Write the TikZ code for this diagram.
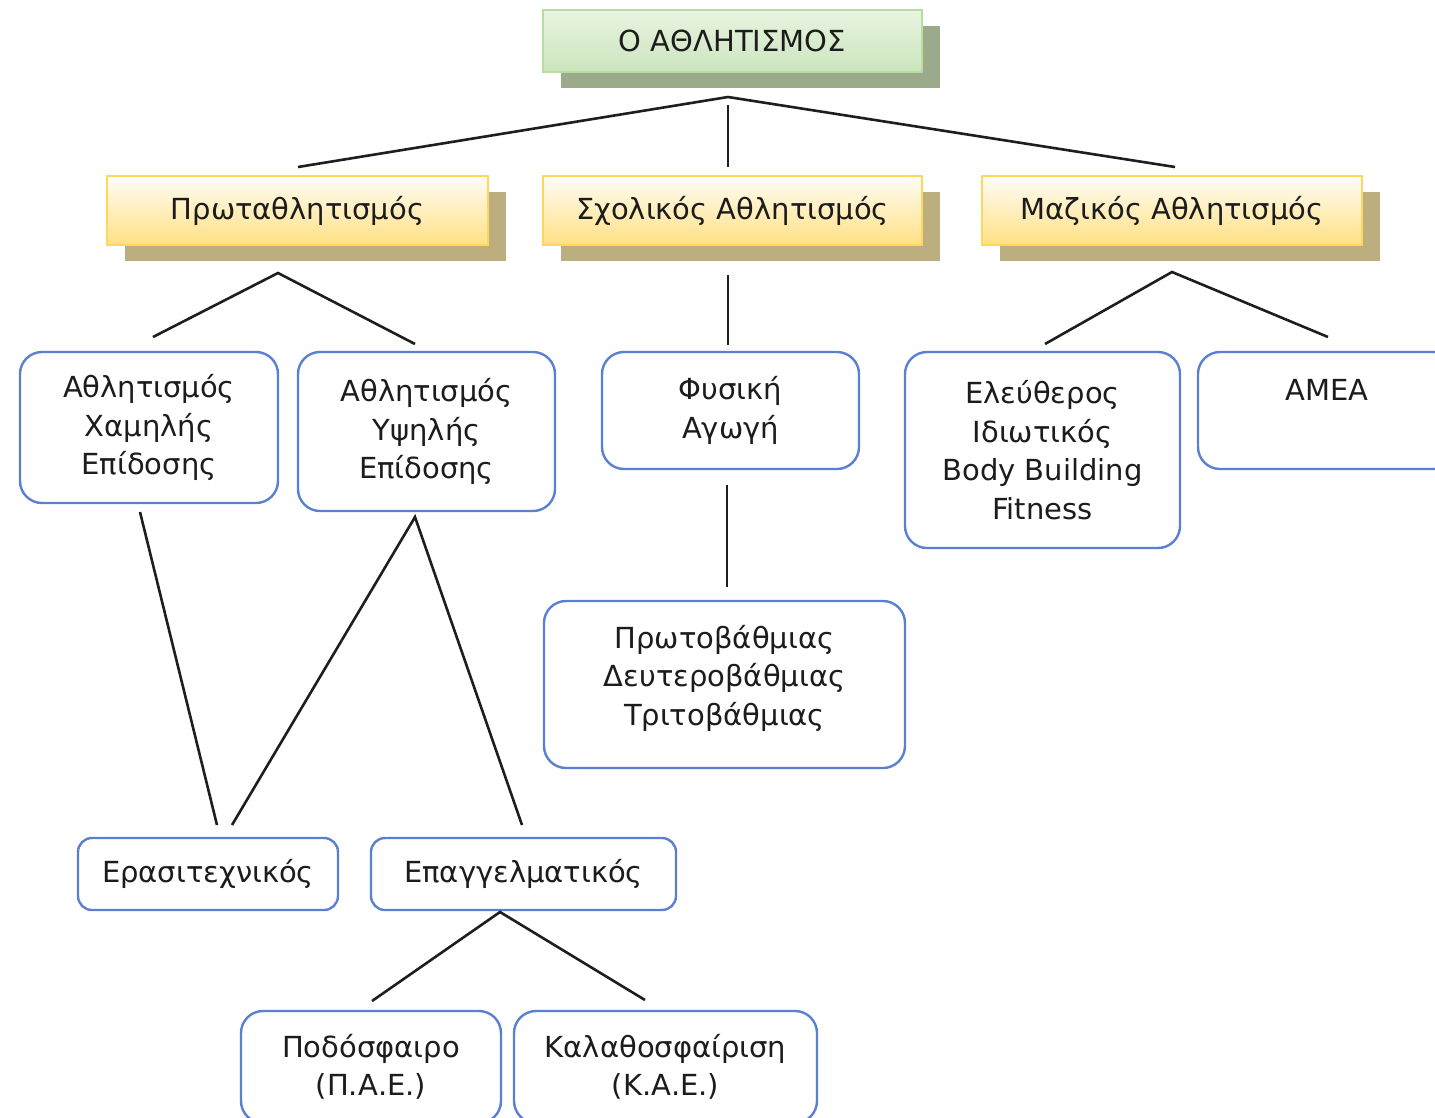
\documentclass[tikz,border=0pt]{standalone}
\usepackage{fontspec}
\setmainfont{DejaVu Sans}
\usetikzlibrary{shadows}
\definecolor{txt}{HTML}{1C1C1C}
\definecolor{boxblue}{HTML}{5B80D2}
\definecolor{gborder}{HTML}{B8DDA0}
\definecolor{gtop}{HTML}{E8F4E0}
\definecolor{gbot}{HTML}{CBE5BD}
\definecolor{gshadow}{HTML}{9AAA8A}
\definecolor{yborder}{HTML}{FFD75E}
\definecolor{ytop}{HTML}{FFFDF6}
\definecolor{ybot}{HTML}{FFE083}
\definecolor{yshadow}{HTML}{BCAE7E}
\definecolor{conncol}{HTML}{1E1E1E}
\begin{document}
\begin{tikzpicture}[x=1pt,y=-1pt,
  basefont/.style={font=\fontsize{29}{38.5}\selectfont, text=txt, align=center},
  topbox/.style={basefont, rectangle, draw=gborder, line width=1.5pt,
    top color=gtop, bottom color=gbot, inner sep=0pt,
    general shadow={fill=gshadow, shadow xshift=18pt, shadow yshift=-16pt}},
  catbox/.style={basefont, rectangle, draw=yborder, line width=1.5pt,
    top color=ytop, bottom color=ybot, inner sep=0pt,
    general shadow={fill=yshadow, shadow xshift=18pt, shadow yshift=-16pt}},
  rbox/.style={basefont, rectangle, draw=boxblue, line width=2.4pt,
    rounded corners=22pt, fill=white, inner sep=0pt},
  conn/.style={draw=conncol, line width=2.6pt},
  plain/.style={basefont, inner sep=0pt}
]
\useasboundingbox (0,0) rectangle (1435,1117);
\clip (0,0) rectangle (1435,1117);

% top
\node[topbox, minimum width=379pt, minimum height=62pt] (top) at (732.5,41) {Ο ΑΘΛΗΤΙΣΜΟΣ};

% categories
\node[catbox, minimum width=381pt, minimum height=69pt] (prota) at (297.5,210.5) {Πρωταθλητισμός};
\node[catbox, minimum width=379pt, minimum height=69pt] (sxol) at (732.5,210.5) {Σχολικός Αθλητισμός};
\node[catbox, minimum width=380pt, minimum height=69pt] (maz) at (1172,210.5) {Μαζικός Αθλητισμός};

% third row
\node[rbox, minimum width=258pt, minimum height=151pt] (low) at (149,427.5) {Αθλητισμός\\Χαμηλής\\Επίδοσης};
\node[rbox, minimum width=257pt, minimum height=159pt] (high) at (426.5,431.5) {Αθλητισμός\\Υψηλής\\Επίδοσης};
\node[rbox, minimum width=257pt, minimum height=117pt] (fys) at (730.5,410.5) {Φυσική\\Αγωγή};
\node[rbox, minimum width=275pt, minimum height=196pt] (free) at (1042.5,450) {Ελεύθερος\\Ιδιωτικός\\Body Building\\Fitness};
\node[rbox, minimum width=258pt, minimum height=117pt] (amea) at (1327,410.5) {};
\node[plain] (ameatext) at (1327,390) {ΑΜΕΑ};

% fourth row
\node[rbox, minimum width=361pt, minimum height=167pt] (bath) at (724.5,684.5) {};
\node[plain] (bathtext) at (724.5,678) {Πρωτοβάθμιας\\Δευτεροβάθμιας\\Τριτοβάθμιας};
\node[rbox, minimum width=260pt, minimum height=72pt, rounded corners=14pt] (eras) at (208,874) {Ερασιτεχνικός};
\node[rbox, minimum width=305pt, minimum height=72pt, rounded corners=14pt] (epag) at (523.5,874) {Επαγγελματικός};

% fifth row
\node[rbox, minimum width=260pt, minimum height=112pt] (podo) at (371,1067) {Ποδόσφαιρο\\(Π.Α.Ε.)};
\node[rbox, minimum width=303pt, minimum height=112pt] (kala) at (665.5,1067) {Καλαθοσφαίριση\\(Κ.Α.Ε.)};

% connector points
\coordinate (a0) at (728,97);
\coordinate (a0v) at (728,105);
\coordinate (e01) at (298,167);
\coordinate (e02) at (728,167);
\coordinate (e03) at (1175,167);

\coordinate (a1) at (278,273);
\coordinate (e11) at (153,337);
\coordinate (e12) at (415,344);
\coordinate (a2) at (728,275);
\coordinate (e21) at (728,345);
\coordinate (a3) at (1172,272);
\coordinate (e31) at (1045,344);
\coordinate (e32) at (1328,337);

\coordinate (s1) at (140,512);
\coordinate (s2) at (415,517);
\coordinate (t1) at (217,825);
\coordinate (t2) at (232,825);
\coordinate (t3) at (522,825);
\coordinate (s3) at (727,485);
\coordinate (t4) at (727,587);

\coordinate (a4) at (500,912);
\coordinate (e41) at (372,1001);
\coordinate (e42) at (645,1000);

\draw[conn] (e01) -- (a0) -- (e03);
\draw[conn] (a0v) -- (e02);
\draw[conn] (e11) -- (a1) -- (e12);
\draw[conn] (a2) -- (e21);
\draw[conn] (e31) -- (a3) -- (e32);
\draw[conn] (s1) -- (t1);
\draw[conn] (t2) -- (s2) -- (t3);
\draw[conn] (s3) -- (t4);
\draw[conn] (e41) -- (a4) -- (e42);
\end{tikzpicture}
\end{document}
